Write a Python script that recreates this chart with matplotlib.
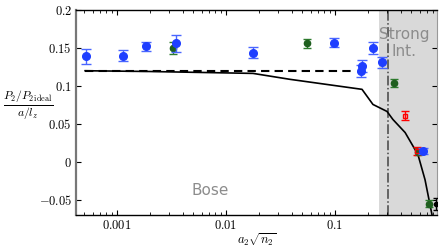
import numpy as np
import matplotlib
matplotlib.use('Agg')
import matplotlib.pyplot as plt

plt.rcParams['mathtext.fontset'] = 'cm'
plt.rcParams['font.family'] = 'DejaVu Sans'

# theory curves
theory_x = [5.1e-4, 0.002, 0.0177, 0.0386, 0.177, 0.223, 0.30, 0.34, 0.44, 0.577, 0.67, 0.777]
theory_y = [0.120, 0.119, 0.1165, 0.1087, 0.0955, 0.0756, 0.0664, 0.0558, 0.0386, 0.0095, -0.0236, -0.07]
mf_x = [5.1e-4, 0.152]
mf_y = [0.12, 0.12]

# data points
blue_x = [5.2e-4, 1.13e-3, 1.85e-3, 3.47e-3, 0.0177, 0.098, 0.223, 0.177, 0.175, 0.27, 0.64]
blue_y = [0.139, 0.140, 0.152, 0.156, 0.144, 0.157, 0.150, 0.126, 0.120, 0.131, 0.0147]
blue_err = [0.010, 0.007, 0.006, 0.011, 0.007, 0.006, 0.008, 0.008, 0.008, 0.007, 0.004]

green_x = [3.27e-3, 0.0553, 0.347, 0.577, 0.728]
green_y = [0.150, 0.156, 0.1035, 0.0135, -0.055]
green_err = [0.008, 0.006, 0.005, 0.005, 0.005]

red_x = [0.44, 0.56]
red_y = [0.061, 0.014]
red_err = [0.006, 0.005]

black_x = [0.85]
black_y = [-0.056]
black_err = [0.008]

strong_start = 0.254
strong_line = 0.306

fig = plt.figure(figsize=(4.43, 2.5), dpi=100)
ax = fig.add_axes([0.1716, 0.14, 0.8149, 0.82])
ax.set_xscale('log')
ax.set_xlim(4.21e-4, 0.863)
ax.set_ylim(-0.07, 0.2)

ax.axvspan(strong_start, 1, color='#d9d9d9', zorder=0, lw=0)
ax.axvline(strong_line, color='#444444', lw=1.1, ls='-.', zorder=1)

ax.plot(mf_x, mf_y, color='black', lw=1.5, ls=(0, (4, 2.5)), zorder=2)
ax.plot(theory_x, theory_y, color='black', lw=1.2, zorder=2)

ax.errorbar(green_x, green_y, yerr=green_err, fmt='o', ms=4.5, color='#1f5f1f',
            ecolor='#2e7d2e', elinewidth=1, capsize=3, zorder=3)
ax.errorbar(red_x, red_y, yerr=red_err, fmt='s', ms=3.5, color='red', mfc='none',
            ecolor='red', elinewidth=1, capsize=3, zorder=3)
ax.errorbar(blue_x, blue_y, yerr=blue_err, fmt='o', ms=5.5, color='#1f3fff',
            ecolor='#4a66ff', elinewidth=1, capsize=3.5, zorder=4)
ax.errorbar(black_x, black_y, yerr=black_err, fmt='o', ms=3, color='black',
            elinewidth=1, capsize=2, zorder=4, clip_on=True)

ax.set_xticks([0.001, 0.01, 0.1])
ax.set_xticklabels(['$0.001$', '$0.01$', '$0.1$'])
yt = [-0.05, 0, 0.05, 0.1, 0.15, 0.2]
ax.set_yticks(yt)
ax.set_yticklabels(['$-0.05$', '$0$', '$0.05$', '$0.1$', '$0.15$', '$0.2$'])
ax.tick_params(which='both', direction='in', top=True, right=True, labelsize=9)
ax.tick_params(which='major', length=3.5, pad=3)
ax.tick_params(which='minor', length=2)

ax.spines['left'].set_color('#777777')
ax.spines['left'].set_linewidth(1.6)
for s in ['bottom', 'top']:
    ax.spines[s].set_linewidth(1.0)
ax.spines['right'].set_color('#999999')

ax.set_xlabel(r'$a_2\sqrt{n_2}$', fontsize=9, labelpad=0)
fig.text(0.064, 0.58, r'$\frac{P_2/P_{2\,\mathrm{ideal}}}{a/l_z}$', fontsize=12,
         ha='center', va='center')

ax.text(0.00713, -0.038, 'Bose', color='#8c8c8c', fontsize=11, ha='center', va='center')
ax.text(0.43, 0.157, 'Strong\nInt.', color='#8c8c8c', fontsize=11, ha='center',
        va='center', linespacing=1.15)

fig.savefig('out.png', dpi=100)
